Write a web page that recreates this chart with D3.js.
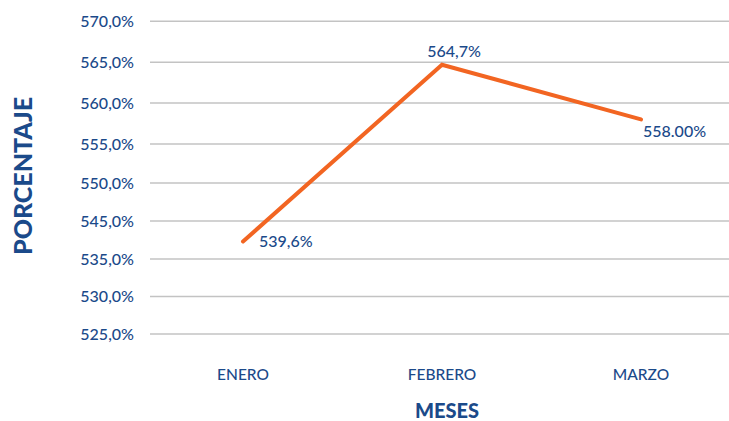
<!DOCTYPE html>
<html>
<head>
<meta charset="utf-8">
<script src="https://cdn.jsdelivr.net/npm/d3@7"></script>
<style>
  html, body { margin: 0; padding: 0; background: #fff; }
  svg { display: block; font-family: Lato, "Open Sans", sans-serif; }
</style>
</head>
<body>
<div id="chart"></div>
<script>
// data
var months = ["ENERO", "FEBRERO", "MARZO"];
var values = [539.6, 564.7, 558.0];
var valueLabels = ["539,6%", "564,7%", "558.00%"];
// the axis really skips 540 in the original
var yTicks = [525, 530, 535, 545, 550, 555, 560, 565, 570];
var yTickLabels = ["525,0%", "530,0%", "535,0%", "545,0%", "550,0%", "555,0%", "560,0%", "565,0%", "570,0%"];

var width = 729, height = 421;
var blue = "#1b4a8a", orange = "#f26522";

var svg = d3.select("#chart").append("svg")
    .attr("width", width)
    .attr("height", height);

// gridlines are not quite evenly spaced in the source, so map tick by tick
var gridY = [334, 296.5, 259, 221, 183, 144, 103, 62.3, 21.3];
var y = d3.scaleLinear().domain(yTicks).range(gridY);

var x = d3.scalePoint().domain(months).range([243, 641]);

var plotLeft = 150, plotRight = width;

// gridlines
svg.append("g")
    .selectAll("line")
    .data(yTicks)
    .enter()
    .append("line")
    .attr("x1", plotLeft)
    .attr("x2", plotRight)
    .attr("y1", function(d) { return y(d); })
    .attr("y2", function(d) { return y(d); })
    .attr("stroke", "#c3c3c3")
    .attr("stroke-width", 1.6);

// y tick labels
svg.append("g")
    .selectAll("text")
    .data(yTicks)
    .enter()
    .append("text")
    .attr("x", 134)
    .attr("y", function(d) { return y(d); })
    .attr("dy", "0.35em")
    .attr("text-anchor", "end")
    .attr("font-size", "16px")
    .attr("font-weight", "500")
    .attr("fill", blue)
    .text(function(d, i) { return yTickLabels[i]; });

// x category labels
svg.append("g")
    .selectAll("text")
    .data(months)
    .enter()
    .append("text")
    .attr("x", function(d) { return x(d); })
    .attr("y", 375)
    .attr("dy", "0.35em")
    .attr("text-anchor", "middle")
    .attr("font-size", "15.5px")
    .attr("font-weight", "500")
    .attr("fill", blue)
    .text(function(d) { return d; });

// the line
var pts = months.map(function(m, i) { return {m: m, v: values[i], label: valueLabels[i]}; });
var line = d3.line()
    .x(function(d) { return x(d.m); })
    .y(function(d) { return y(d.v); });

svg.append("path")
    .datum(pts)
    .attr("d", line)
    .attr("fill", "none")
    .attr("stroke", orange)
    .attr("stroke-width", 4)
    .attr("stroke-linecap", "round")
    .attr("stroke-linejoin", "miter");

// data labels, offsets per point
var labelOffset = [[16, 0, "start"], [12, -13, "middle"], [2, 12, "start"]];
svg.append("g")
    .selectAll("text")
    .data(pts)
    .enter()
    .append("text")
    .attr("x", function(d, i) { return x(d.m) + labelOffset[i][0]; })
    .attr("y", function(d, i) { return y(d.v) + labelOffset[i][1]; })
    .attr("dy", "0.35em")
    .attr("text-anchor", function(d, i) { return labelOffset[i][2]; })
    .attr("font-size", "16px")
    .attr("font-weight", "500")
    .attr("fill", blue)
    .text(function(d) { return d.label; });

// axis titles
svg.append("text")
    .attr("x", 447)
    .attr("y", 418)
    .attr("text-anchor", "middle")
    .attr("font-size", "20px")
    .attr("font-weight", "900")
    .attr("fill", blue)
    .text("MESES");

svg.append("text")
    .attr("transform", "translate(23,176) rotate(-90)")
    .attr("dy", "0.35em")
    .attr("text-anchor", "middle")
    .attr("font-size", "25px")
    .attr("font-weight", "900")
    .attr("fill", blue)
    .text("PORCENTAJE");
</script>
</body>
</html>
